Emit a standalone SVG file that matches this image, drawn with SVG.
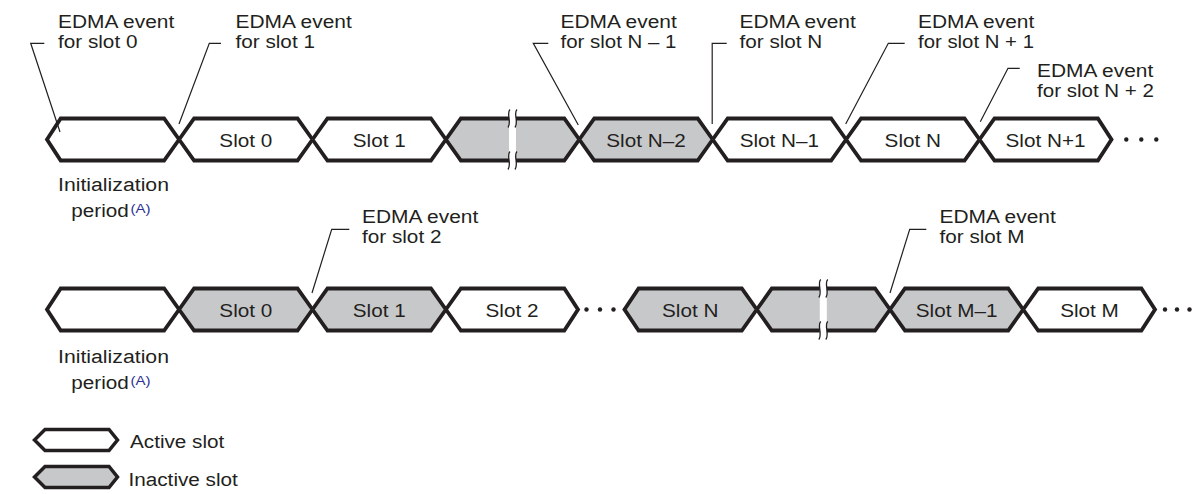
<svg xmlns="http://www.w3.org/2000/svg" width="1193" height="494" viewBox="0 0 1193 494">
<style>
.w{fill:#fff}.g{fill:#c7c8ca}
.ol{fill:none;stroke:#231f20;stroke-width:3.8;stroke-linejoin:miter;stroke-miterlimit:10;stroke-linecap:butt}
.t{font-family:"Liberation Sans",Arial,Helvetica,sans-serif;font-size:18px;fill:#231f20}
.m{text-anchor:middle}
.sup{font-family:"Liberation Sans",Arial,Helvetica,sans-serif;font-size:13px;fill:#2e3192}
.ld{fill:none;stroke:#231f20;stroke-width:1.2;stroke-linejoin:miter}
.sq{fill:none;stroke:#231f20;stroke-width:1.3}
.dot{fill:#231f20}
</style>
<rect width="1193" height="494" fill="#fff"/>

<!-- Row 1 -->
<g id="r1-init">
<polygon class="w" points="47,139.5 60.7,118.5 164.1,118.5 179.1,139.5 164.1,160.5 60.7,160.5"/>
<path class="ol" d="M179.1,139.5 L164.1,118.5 L60.7,118.5 L47,139.5 L60.7,160.5 L164.1,160.5 L179.1,139.5"/>
<text class="t" x="58" y="190.7" textLength="111" lengthAdjust="spacingAndGlyphs">Initialization</text>
<text class="t" x="71.3" y="216.8" textLength="57.5" lengthAdjust="spacingAndGlyphs">period</text>
<text class="sup" x="130.5" y="212.8" textLength="20" lengthAdjust="spacingAndGlyphs">(A)</text>
</g>
<g id="r1-slot0">
<polygon class="w" points="179.1,139.5 194.1,118.5 297.5,118.5 312.5,139.5 297.5,160.5 194.1,160.5"/>
<path class="ol" d="M179.1,139.5 L194.1,118.5 L297.5,118.5 L312.5,139.5 M179.1,139.5 L194.1,160.5 L297.5,160.5 L312.5,139.5"/>
<text class="t m" x="245.8" y="146.5" textLength="52.9" lengthAdjust="spacingAndGlyphs">Slot 0</text>
</g>
<g id="r1-slot1">
<polygon class="w" points="312.5,139.5 327.5,118.5 430.9,118.5 445.9,139.5 430.9,160.5 327.5,160.5"/>
<path class="ol" d="M312.5,139.5 L327.5,118.5 L430.9,118.5 L445.9,139.5 M312.5,139.5 L327.5,160.5 L430.9,160.5 L445.9,139.5"/>
<text class="t m" x="379.2" y="146.5" textLength="52.9" lengthAdjust="spacingAndGlyphs">Slot 1</text>
</g>
<g id="r1-break">
<polygon class="g" points="445.9,139.5 460.9,118.5 564.3,118.5 579.3,139.5 564.3,160.5 460.9,160.5"/>
<path class="ol" d="M445.9,139.5 L460.9,118.5 L564.3,118.5 L579.3,139.5 M445.9,139.5 L460.9,160.5 L564.3,160.5 L579.3,139.5"/>
<rect x="509" y="115" width="7" height="49" fill="#fff"/>
<path class="sq" d="M510,109.5 C506,113 512,122 508,127.5 M517,109.5 C513,113 519,122 515,127.5 M510,151.5 C506,155 512,164 508,169.5 M517,151.5 C513,155 519,164 515,169.5"/>
</g>
<g id="r1-slotN-2">
<polygon class="g" points="579.3,139.5 594.3,118.5 697.7,118.5 712.7,139.5 697.7,160.5 594.3,160.5"/>
<path class="ol" d="M579.3,139.5 L594.3,118.5 L697.7,118.5 L712.7,139.5 M579.3,139.5 L594.3,160.5 L697.7,160.5 L712.7,139.5"/>
<text class="t m" x="646" y="146.5" textLength="79.4" lengthAdjust="spacingAndGlyphs">Slot N–2</text>
</g>
<g id="r1-slotN-1">
<polygon class="w" points="712.7,139.5 727.7,118.5 831.1,118.5 846.1,139.5 831.1,160.5 727.7,160.5"/>
<path class="ol" d="M712.7,139.5 L727.7,118.5 L831.1,118.5 L846.1,139.5 M712.7,139.5 L727.7,160.5 L831.1,160.5 L846.1,139.5"/>
<text class="t m" x="779.4" y="146.5" textLength="79.4" lengthAdjust="spacingAndGlyphs">Slot N–1</text>
</g>
<g id="r1-slotN">
<polygon class="w" points="846.1,139.5 861.1,118.5 964.5,118.5 979.5,139.5 964.5,160.5 861.1,160.5"/>
<path class="ol" d="M846.1,139.5 L861.1,118.5 L964.5,118.5 L979.5,139.5 M846.1,139.5 L861.1,160.5 L964.5,160.5 L979.5,139.5"/>
<text class="t m" x="912.8" y="146.5" textLength="56.4" lengthAdjust="spacingAndGlyphs">Slot N</text>
</g>
<g id="r1-slotN+1">
<polygon class="w" points="979.5,139.5 994.5,118.5 1097.9,118.5 1111.5,139.5 1097.9,160.5 994.5,160.5"/>
<path class="ol" d="M979.5,139.5 L994.5,118.5 L1097.9,118.5 L1111.5,139.5 L1097.9,160.5 L994.5,160.5 L979.5,139.5"/>
<text class="t m" x="1045.5" y="146.5" textLength="80" lengthAdjust="spacingAndGlyphs">Slot N+1</text>
</g>
<g id="r1-more">
<circle class="dot" cx="1126.3" cy="139.5" r="2.2"/><circle class="dot" cx="1141.3" cy="139.5" r="2.2"/><circle class="dot" cx="1156.3" cy="139.5" r="2.2"/>
</g>

<!-- Row 2 -->
<g id="r2-init">
<polygon class="w" points="47,309.5 60.7,288.5 164.1,288.5 179.1,309.5 164.1,330.5 60.7,330.5"/>
<path class="ol" d="M179.1,309.5 L164.1,288.5 L60.7,288.5 L47,309.5 L60.7,330.5 L164.1,330.5 L179.1,309.5"/>
<text class="t" x="58" y="362.7" textLength="111" lengthAdjust="spacingAndGlyphs">Initialization</text>
<text class="t" x="71.3" y="389.3" textLength="57.5" lengthAdjust="spacingAndGlyphs">period</text>
<text class="sup" x="130.5" y="385.3" textLength="20" lengthAdjust="spacingAndGlyphs">(A)</text>
</g>
<g id="r2-slot0">
<polygon class="g" points="179.1,309.5 194.1,288.5 297.5,288.5 312.5,309.5 297.5,330.5 194.1,330.5"/>
<path class="ol" d="M179.1,309.5 L194.1,288.5 L297.5,288.5 L312.5,309.5 M179.1,309.5 L194.1,330.5 L297.5,330.5 L312.5,309.5"/>
<text class="t m" x="245.8" y="316.5" textLength="52.9" lengthAdjust="spacingAndGlyphs">Slot 0</text>
</g>
<g id="r2-slot1">
<polygon class="g" points="312.5,309.5 327.5,288.5 430.9,288.5 445.9,309.5 430.9,330.5 327.5,330.5"/>
<path class="ol" d="M312.5,309.5 L327.5,288.5 L430.9,288.5 L445.9,309.5 M312.5,309.5 L327.5,330.5 L430.9,330.5 L445.9,309.5"/>
<text class="t m" x="379.2" y="316.5" textLength="52.9" lengthAdjust="spacingAndGlyphs">Slot 1</text>
</g>
<g id="r2-slot2">
<polygon class="w" points="445.9,309.5 460.9,288.5 564.3,288.5 578,309.5 564.3,330.5 460.9,330.5"/>
<path class="ol" d="M445.9,309.5 L460.9,288.5 L564.3,288.5 L578,309.5 L564.3,330.5 L460.9,330.5 L445.9,309.5"/>
<text class="t m" x="512" y="316.5" textLength="52.9" lengthAdjust="spacingAndGlyphs">Slot 2</text>
</g>
<g id="r2-more1">
<circle class="dot" cx="586.5" cy="309.5" r="2.2"/><circle class="dot" cx="600" cy="309.5" r="2.2"/><circle class="dot" cx="613.5" cy="309.5" r="2.2"/>
</g>
<g id="r2-slotN">
<polygon class="g" points="624.5,309.5 638.6,288.5 741.8,288.5 756.8,309.5 741.8,330.5 638.6,330.5"/>
<path class="ol" d="M756.8,309.5 L741.8,288.5 L638.6,288.5 L624.5,309.5 L638.6,330.5 L741.8,330.5 L756.8,309.5"/>
<text class="t m" x="690.2" y="316.5" textLength="56.4" lengthAdjust="spacingAndGlyphs">Slot N</text>
</g>
<g id="r2-break">
<polygon class="g" points="756.8,309.5 771.8,288.5 875,288.5 890,309.5 875,330.5 771.8,330.5"/>
<path class="ol" d="M756.8,309.5 L771.8,288.5 L875,288.5 L890,309.5 M756.8,309.5 L771.8,330.5 L875,330.5 L890,309.5"/>
<rect x="819.8" y="285" width="7" height="49" fill="#fff"/>
<path class="sq" d="M820.8,279.5 C816.8,283 822.8,292 818.8,297.5 M827.8,279.5 C823.8,283 829.8,292 825.8,297.5 M820.8,321.5 C816.8,325 822.8,334 818.8,339.5 M827.8,321.5 C823.8,325 829.8,334 825.8,339.5"/>
</g>
<g id="r2-slotM-1">
<polygon class="g" points="890,309.5 905,288.5 1008.2,288.5 1023.2,309.5 1008.2,330.5 905,330.5"/>
<path class="ol" d="M890,309.5 L905,288.5 L1008.2,288.5 L1023.2,309.5 M890,309.5 L905,330.5 L1008.2,330.5 L1023.2,309.5"/>
<text class="t m" x="956.6" y="316.5" textLength="81.7" lengthAdjust="spacingAndGlyphs">Slot M–1</text>
</g>
<g id="r2-slotM">
<polygon class="w" points="1023.2,309.5 1038.2,288.5 1141.4,288.5 1155,309.5 1141.4,330.5 1038.2,330.5"/>
<path class="ol" d="M1023.2,309.5 L1038.2,288.5 L1141.4,288.5 L1155,309.5 L1141.4,330.5 L1038.2,330.5 L1023.2,309.5"/>
<text class="t m" x="1089.5" y="316.5" textLength="58.7" lengthAdjust="spacingAndGlyphs">Slot M</text>
</g>
<g id="r2-more2">
<circle class="dot" cx="1165" cy="309.5" r="2.2"/><circle class="dot" cx="1177" cy="309.5" r="2.2"/><circle class="dot" cx="1189.5" cy="309.5" r="2.2"/>
</g>

<!-- Event labels -->
<g id="ev0"><text class="t" x="58" y="27.5" textLength="116.2" lengthAdjust="spacingAndGlyphs">EDMA event</text><text class="t" x="58" y="48" textLength="79.4" lengthAdjust="spacingAndGlyphs">for slot 0</text></g>
<g id="ev1"><text class="t" x="235.5" y="27.5" textLength="116.2" lengthAdjust="spacingAndGlyphs">EDMA event</text><text class="t" x="235.5" y="48" textLength="79.4" lengthAdjust="spacingAndGlyphs">for slot 1</text></g>
<g id="evN-1"><text class="t" x="560.5" y="27.5" textLength="116.2" lengthAdjust="spacingAndGlyphs">EDMA event</text><text class="t" x="560.5" y="48" textLength="116" lengthAdjust="spacingAndGlyphs">for slot N – 1</text></g>
<g id="evN"><text class="t" x="739.5" y="27.5" textLength="116.2" lengthAdjust="spacingAndGlyphs">EDMA event</text><text class="t" x="739.5" y="48" textLength="82.8" lengthAdjust="spacingAndGlyphs">for slot N</text></g>
<g id="evN+1"><text class="t" x="918" y="27.5" textLength="116.2" lengthAdjust="spacingAndGlyphs">EDMA event</text><text class="t" x="918" y="48" textLength="116" lengthAdjust="spacingAndGlyphs">for slot N + 1</text></g>
<g id="evN+2"><text class="t" x="1037" y="76.5" textLength="116.2" lengthAdjust="spacingAndGlyphs">EDMA event</text><text class="t" x="1037" y="97" textLength="117" lengthAdjust="spacingAndGlyphs">for slot N + 2</text></g>
<g id="ev2"><text class="t" x="362" y="222.5" textLength="116.2" lengthAdjust="spacingAndGlyphs">EDMA event</text><text class="t" x="362" y="243.2" textLength="79.4" lengthAdjust="spacingAndGlyphs">for slot 2</text></g>
<g id="evM"><text class="t" x="939.5" y="222.5" textLength="116.2" lengthAdjust="spacingAndGlyphs">EDMA event</text><text class="t" x="939.5" y="243.2" textLength="85.1" lengthAdjust="spacingAndGlyphs">for slot M</text></g>

<!-- Connectors (leader lines) -->
<g id="connectors">
<path class="ld" d="M60,132 L30.7,43.3 L44.3,43.3"/>
<path class="ld" d="M179,124 L209.3,43.3 L221,43.3"/>
<path class="ld" d="M578.3,125 L533.3,43.3 L548.3,43.3"/>
<path class="ld" d="M712.2,124 L712.2,43.3 L726.7,43.3"/>
<path class="ld" d="M845.7,124 L888.3,43.3 L904.7,43.3"/>
<path class="ld" d="M980.3,121.7 L1008,68.3 L1019.7,68.3"/>
<path class="ld" d="M312,293 L331.7,229.3 L349.3,229.3"/>
<path class="ld" d="M890,293 L909.7,229.3 L926.3,229.3"/>
</g>

<!-- Legend -->
<g id="legend-active">
<polygon class="w" points="34.5,440 45,429.5 109,429.5 117.5,440 109,450.5 45,450.5"/>
<polygon class="ol" style="stroke-width:3.5" points="34.5,440 45,429.5 109,429.5 117.5,440 109,450.5 45,450.5"/>
<text class="t" x="130" y="448.3" textLength="94.3" lengthAdjust="spacingAndGlyphs">Active slot</text>
</g>
<g id="legend-inactive">
<polygon class="g" points="34.5,477 45,466.5 109,466.5 117.5,477 109,487.5 45,487.5"/>
<polygon class="ol" style="stroke-width:3.5" points="34.5,477 45,466.5 109,466.5 117.5,477 109,487.5 45,487.5"/>
<text class="t" x="128.5" y="486" textLength="109.3" lengthAdjust="spacingAndGlyphs">Inactive slot</text>
</g>
</svg>
